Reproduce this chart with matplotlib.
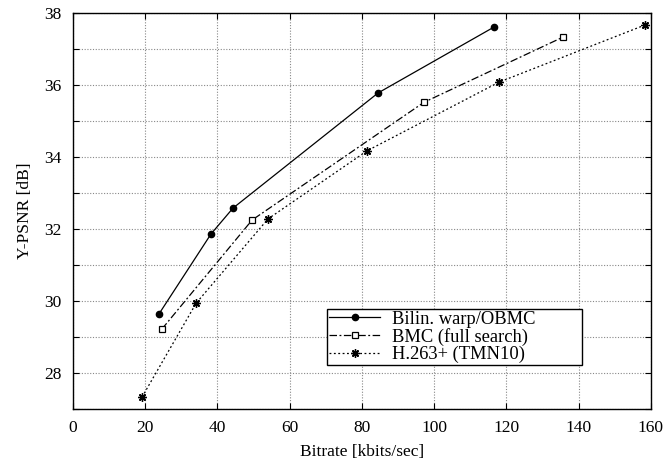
import matplotlib
matplotlib.use("Agg")
import matplotlib.pyplot as plt
from matplotlib.ticker import MultipleLocator

plt.rcParams['font.family'] = ['Liberation Serif', 'DejaVu Serif']

# 数据
bilin_rate = [23.8, 38.2, 44.3, 84.5, 116.6]
bilin_psnr = [29.64, 31.86, 32.58, 35.78, 37.61]

bmc_rate = [24.6, 49.6, 97.2, 135.7]
bmc_psnr = [29.22, 32.25, 35.52, 37.33]

h263_rate = [19.1, 34.1, 54.0, 81.4, 118.0, 158.5]
h263_psnr = [27.33, 29.94, 32.28, 34.17, 36.08, 37.67]

labels = ["Bilin. warp/OBMC", "BMC (full search)", "H.263+ (TMN10)"]

fig = plt.figure(figsize=(6.64, 4.66), dpi=100)
ax = fig.add_axes([0.110, 0.1223, 0.870, 0.8498])

ax.plot(bilin_rate, bilin_psnr, color='black', linestyle='-', linewidth=0.9,
        marker='o', markersize=4.5, label=labels[0])
ax.plot(bmc_rate, bmc_psnr, color='black', linestyle=(0, (6, 2, 1.5, 2)), linewidth=0.9,
        marker='s', markersize=5, markerfacecolor='white', markeredgewidth=0.9, label=labels[1])
ax.plot(h263_rate, h263_psnr, color='black', linestyle=(0, (1.5, 2)), linewidth=0.9,
        marker=(8, 2, 0), markersize=6, markeredgewidth=1.0, label=labels[2])

ax.set_xlim(0, 160)
ax.set_ylim(27, 38)
ax.xaxis.set_major_locator(MultipleLocator(20))
ax.yaxis.set_major_locator(MultipleLocator(2))
ax.yaxis.set_minor_locator(MultipleLocator(1))

ax.grid(True, which='both', color='#888888', linestyle=(0, (1, 1.5)), linewidth=0.8)
ax.tick_params(which='both', direction='in', top=True, right=True, labelsize=12.5,
               width=0.8, length=4, pad=8)
for s in ax.spines.values():
    s.set_linewidth(1.0)

ax.set_xlabel("Bitrate [kbits/sec]", fontsize=12.5, labelpad=6)
ax.set_ylabel("Y-PSNR [dB]", fontsize=12.5, labelpad=8)

# 图例框（gnuplot 风格，右侧留白）
leg = ax.legend(loc='upper left', bbox_to_anchor=(0.4394, 0.2525, 0.441, 0.0),
                mode='expand', fontsize=13.3,
                frameon=True, fancybox=False, framealpha=1, edgecolor='black',
                borderpad=0.1, labelspacing=0.0, handlelength=2.8, handletextpad=0.6,
                borderaxespad=0)
leg.get_frame().set_linewidth(1.0)

fig.savefig("out.png", dpi=100)
